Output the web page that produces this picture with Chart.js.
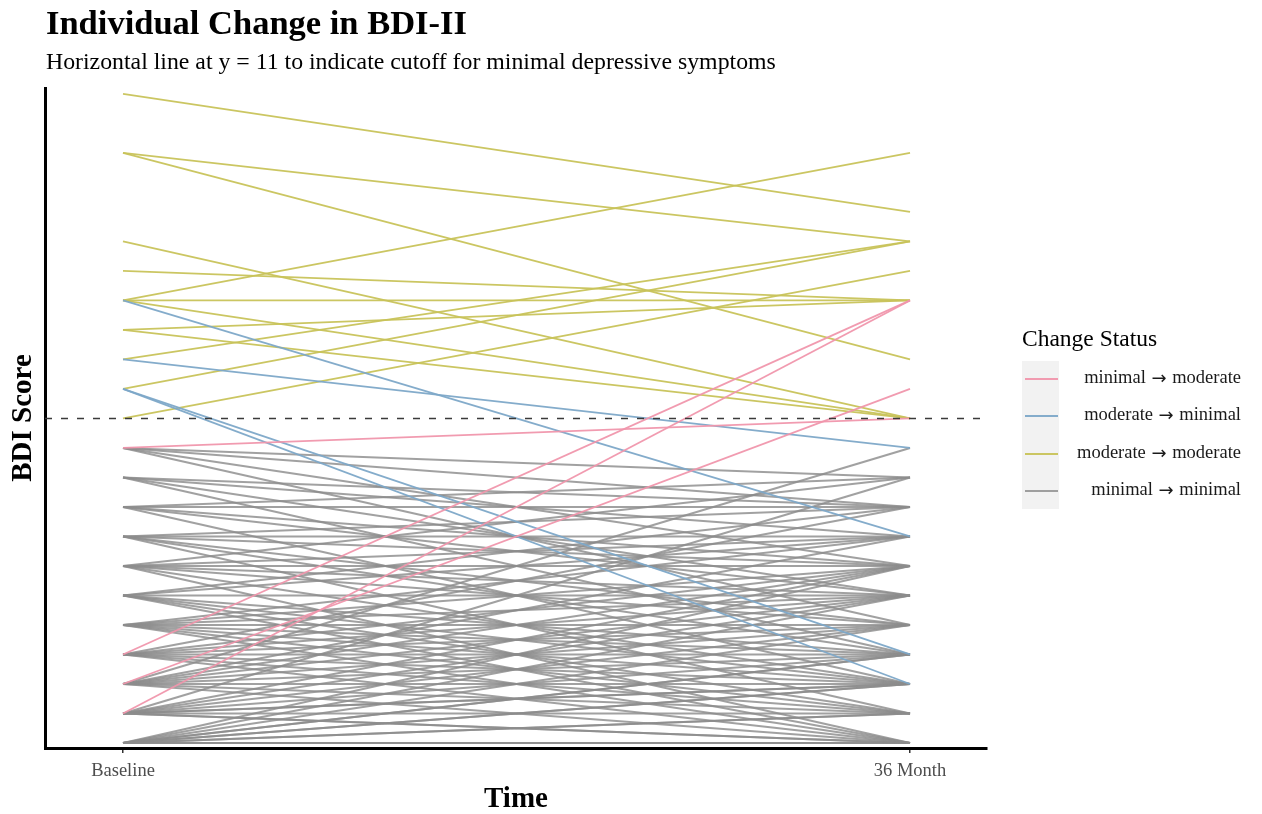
<!DOCTYPE html>
<html><head><meta charset="utf-8">
<script src="https://cdn.jsdelivr.net/npm/chart.js@4.4.1/dist/chart.umd.min.js"></script>
<style>
html,body{margin:0;padding:0;background:#fff;}
body{width:1262px;height:814px;position:relative;overflow:hidden;font-family:"Liberation Serif","Times New Roman",serif;}
#wrap{position:absolute;left:0;top:0;width:1262px;height:814px;}
.t{position:absolute;white-space:nowrap;line-height:1;color:#000;}
.key{position:absolute;left:1025px;width:33px;height:2px;}
.lab{position:absolute;right:21px;font-size:18.5px;line-height:18px;white-space:nowrap;color:#1a1a1a;text-align:right;}
.arr{font-family:"DejaVu Sans",sans-serif;font-size:18px;line-height:18px;vertical-align:-1px;margin:0 1px;}
</style></head><body>
<div id="wrap"><canvas id="c" width="1262" height="814"></canvas></div>
<div class="t" style="left:46px;top:5px;font-size:34.5px;font-weight:bold;">Individual Change in BDI-II</div>
<div class="t" style="left:46px;top:50px;font-size:23.8px;">Horizontal line at y = 11 to indicate cutoff for minimal depressive symptoms</div>
<div class="t" style="left:1022px;top:327px;font-size:23.5px;">Change Status</div>
<div style="position:absolute;left:1022px;top:361px;width:37px;height:148px;background:#f2f2f2;"></div>
<div id="legendRows"></div>
<script>
// ---- data ----
const tickValues = [0, 1];
const tickLabels = ["Baseline", "36 Month"];
const cutoff = 11;

const statusFrom = ["minimal", "moderate", "moderate", "minimal"];
const statusTo   = ["moderate", "minimal", "moderate", "minimal"];

const minModBase = [10, 3, 1, 2];
const minModEnd  = [11, 15, 15, 12];

const modMinBase = [15, 13, 12, 12];
const modMinEnd  = [7, 10, 3, 2];

const modModBase = [22, 20, 20, 17, 16, 15, 15, 15, 14, 14, 13, 12, 11];
const modModEnd  = [18, 17, 13, 11, 15, 20, 15, 11, 15, 11, 17, 17, 16];

const minMinBase = [10,10,10,10, 9,9,9,9, 8,8,8,8,8, 7,7,7,7,7,7, 6,6,6,6,6,6,6, 5,5,5,5,5,5,5,
  4,4,4,4,4,4,4,4, 3,3,3,3,3,3,3,3, 2,2,2,2,2,2,2,2,2, 1,1,1,1,1,1,1,1,1,1, 0,0,0,0,0,0,0,0,0,0,0];
const minMinEnd  = [8,6,4,9, 8,7,5,3, 8,6,5,2,9, 7,8,4,3,1,6, 6,9,5,2,0,4,7, 5,7,3,1,8,2,0,
  4,6,2,0,5,3,7,1, 3,5,1,6,0,2,4,8, 2,4,0,6,1,3,5,7,10, 1,3,0,5,2,4,6,0,2,9, 0,1,2,3,4,0,1,5,2,6,3];

// ---- styles ----
const colors = ["rgba(240,150,172,0.95)", "rgba(125,168,200,0.95)", "rgba(200,195,90,0.95)", "rgba(140,140,140,0.82)"];
const FONT = "'Liberation Serif','Times New Roman',serif";
const X_MIN = -0.0991, X_MAX = 1.0978, Y_MIN = -0.17, Y_MAX = 22.2;

function makeSets(base, end, color, w) {
  return base.map((b, i) => ({
    data: [{x: tickValues[0], y: b}, {x: tickValues[1], y: end[i]}],
    borderColor: color, borderWidth: w, pointRadius: 0, fill: false, tension: 0
  }));
}

const datasets = [
  {data: [{x: X_MIN, y: cutoff}, {x: X_MAX, y: cutoff}], borderColor: "#3a3a3a", borderWidth: 1.6,
   borderDash: [7, 9], pointRadius: 0, fill: false},
  ...makeSets(minModBase, minModEnd, colors[0], 1.8),
  ...makeSets(modMinBase, modMinEnd, colors[1], 1.8),
  ...makeSets(modModBase, modModEnd, colors[2], 1.8),
  ...makeSets(minMinBase, minMinEnd, colors[3], 2.1)
];

new Chart(document.getElementById("c"), {
  type: "line",
  data: {datasets},
  options: {
    responsive: false, animation: false, devicePixelRatio: 1,
    layout: {padding: {left: 0, top: 88, right: 275, bottom: 0}},
    plugins: {legend: {display: false}, tooltip: {enabled: false}, title: {display: false}},
    scales: {
      x: {
        type: "linear", min: X_MIN, max: X_MAX,
        afterBuildTicks: (s) => { s.ticks = tickValues.map(v => ({value: v})); },
        afterFit: (s) => { s.height = 66; },
        ticks: {callback: (v, i) => tickLabels[i], autoSkip: false, maxRotation: 0,
                font: {family: FONT, size: 18.5}, color: "#4d4d4d", padding: 7},
        grid: {display: true, drawOnChartArea: false, drawTicks: true, tickLength: 5, color: "#333", lineWidth: 1.5},
        border: {display: true, color: "#000", width: 3},
        title: {display: true, text: "Time", color: "#000", font: {family: FONT, size: 29, weight: "bold", lineHeight: 1},
                padding: {top: 0, bottom: 0}}
      },
      y: {
        type: "linear", min: Y_MIN, max: Y_MAX,
        afterFit: (s) => { s.width = 45; },
        ticks: {display: false},
        grid: {display: false},
        border: {display: true, color: "#000", width: 3},
        title: {display: true, text: "BDI Score", color: "#000", font: {family: FONT, size: 29, weight: "bold"},
                padding: {top: 6, bottom: 0}}
      }
    }
  }
});

// legend rows
const rowCenters = [379, 416, 454, 491];
const lr = document.getElementById("legendRows");
statusFrom.forEach((from, i) => {
  const k = document.createElement("div");
  k.className = "key"; k.style.top = (rowCenters[i] - 1) + "px"; k.style.background = colors[i];
  lr.appendChild(k);
  const l = document.createElement("div");
  l.className = "lab"; l.style.top = (rowCenters[i] - 11) + "px";
  l.innerHTML = from + ' <span class="arr">\u2192</span> ' + statusTo[i];
  lr.appendChild(l);
});
</script>
</body></html>
